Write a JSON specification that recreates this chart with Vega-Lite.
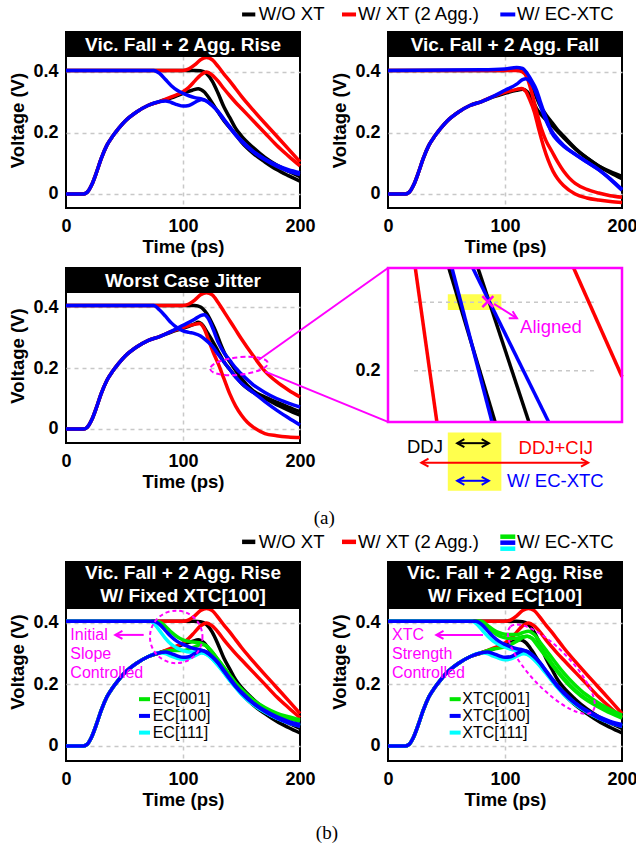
{
"$schema":"https://vega.github.io/schema/vega-lite/v6.json",
"padding":{"left":7,"top":4,"right":0,"bottom":0},
"background":"white",
"columns":2,
"bounds":"flush",
"spacing":{"row":60,"column":88},
"resolve":{"scale":{"x":"independent","y":"independent"}},
"datasets":{
"A1":[
{"s":"k1","c":"k","t":0,"v":0.405},{"s":"k1","c":"k","t":100,"v":0.405},{"s":"k1","c":"k","t":110,"v":0.405},{"s":"k1","c":"k","t":115,"v":0.404},{"s":"k1","c":"k","t":120,"v":0.395},{"s":"k1","c":"k","t":125,"v":0.37},{"s":"k1","c":"k","t":130,"v":0.33},{"s":"k1","c":"k","t":135,"v":0.285},{"s":"k1","c":"k","t":140,"v":0.25},{"s":"k1","c":"k","t":145,"v":0.215},{"s":"k1","c":"k","t":150,"v":0.19},{"s":"k1","c":"k","t":160,"v":0.152},{"s":"k1","c":"k","t":170,"v":0.12},{"s":"k1","c":"k","t":180,"v":0.095},{"s":"k1","c":"k","t":190,"v":0.075},{"s":"k1","c":"k","t":200,"v":0.057},
{"s":"k2","c":"k","t":0,"v":0},{"s":"k2","c":"k","t":15,"v":0},{"s":"k2","c":"k","t":18,"v":0.005},{"s":"k2","c":"k","t":22,"v":0.03},{"s":"k2","c":"k","t":26,"v":0.07},{"s":"k2","c":"k","t":30,"v":0.115},{"s":"k2","c":"k","t":35,"v":0.16},{"s":"k2","c":"k","t":40,"v":0.19},{"s":"k2","c":"k","t":45,"v":0.215},{"s":"k2","c":"k","t":50,"v":0.237},{"s":"k2","c":"k","t":60,"v":0.268},{"s":"k2","c":"k","t":70,"v":0.29},{"s":"k2","c":"k","t":80,"v":0.303},{"s":"k2","c":"k","t":90,"v":0.315},{"s":"k2","c":"k","t":100,"v":0.33},{"s":"k2","c":"k","t":108,"v":0.34},{"s":"k2","c":"k","t":113,"v":0.345},{"s":"k2","c":"k","t":118,"v":0.335},{"s":"k2","c":"k","t":123,"v":0.31},{"s":"k2","c":"k","t":128,"v":0.28},{"s":"k2","c":"k","t":135,"v":0.24},{"s":"k2","c":"k","t":145,"v":0.195},{"s":"k2","c":"k","t":150,"v":0.17},{"s":"k2","c":"k","t":160,"v":0.133},{"s":"k2","c":"k","t":170,"v":0.105},{"s":"k2","c":"k","t":180,"v":0.08},{"s":"k2","c":"k","t":190,"v":0.06},{"s":"k2","c":"k","t":200,"v":0.042},
{"s":"r1","c":"r","t":0,"v":0.405},{"s":"r1","c":"r","t":100,"v":0.405},{"s":"r1","c":"r","t":105,"v":0.41},{"s":"r1","c":"r","t":110,"v":0.423},{"s":"r1","c":"r","t":115,"v":0.44},{"s":"r1","c":"r","t":120,"v":0.447},{"s":"r1","c":"r","t":125,"v":0.44},{"s":"r1","c":"r","t":130,"v":0.418},{"s":"r1","c":"r","t":135,"v":0.393},{"s":"r1","c":"r","t":140,"v":0.37},{"s":"r1","c":"r","t":145,"v":0.345},{"s":"r1","c":"r","t":150,"v":0.32},{"s":"r1","c":"r","t":160,"v":0.275},{"s":"r1","c":"r","t":170,"v":0.232},{"s":"r1","c":"r","t":180,"v":0.19},{"s":"r1","c":"r","t":190,"v":0.148},{"s":"r1","c":"r","t":200,"v":0.105},
{"s":"r2","c":"r","t":0,"v":0},{"s":"r2","c":"r","t":15,"v":0},{"s":"r2","c":"r","t":18,"v":0.005},{"s":"r2","c":"r","t":22,"v":0.03},{"s":"r2","c":"r","t":26,"v":0.07},{"s":"r2","c":"r","t":30,"v":0.115},{"s":"r2","c":"r","t":35,"v":0.16},{"s":"r2","c":"r","t":40,"v":0.19},{"s":"r2","c":"r","t":45,"v":0.215},{"s":"r2","c":"r","t":50,"v":0.237},{"s":"r2","c":"r","t":60,"v":0.268},{"s":"r2","c":"r","t":70,"v":0.29},{"s":"r2","c":"r","t":80,"v":0.303},{"s":"r2","c":"r","t":90,"v":0.318},{"s":"r2","c":"r","t":100,"v":0.335},{"s":"r2","c":"r","t":105,"v":0.35},{"s":"r2","c":"r","t":110,"v":0.37},{"s":"r2","c":"r","t":115,"v":0.39},{"s":"r2","c":"r","t":120,"v":0.4},{"s":"r2","c":"r","t":125,"v":0.39},{"s":"r2","c":"r","t":130,"v":0.37},{"s":"r2","c":"r","t":135,"v":0.345},{"s":"r2","c":"r","t":140,"v":0.322},{"s":"r2","c":"r","t":145,"v":0.3},{"s":"r2","c":"r","t":150,"v":0.28},{"s":"r2","c":"r","t":160,"v":0.24},{"s":"r2","c":"r","t":170,"v":0.2},{"s":"r2","c":"r","t":180,"v":0.16},{"s":"r2","c":"r","t":190,"v":0.125},{"s":"r2","c":"r","t":200,"v":0.092},
{"s":"b1","c":"b","t":0,"v":0.405},{"s":"b1","c":"b","t":75,"v":0.405},{"s":"b1","c":"b","t":80,"v":0.395},{"s":"b1","c":"b","t":85,"v":0.375},{"s":"b1","c":"b","t":90,"v":0.355},{"s":"b1","c":"b","t":95,"v":0.34},{"s":"b1","c":"b","t":100,"v":0.33},{"s":"b1","c":"b","t":105,"v":0.322},{"s":"b1","c":"b","t":110,"v":0.316},{"s":"b1","c":"b","t":115,"v":0.312},{"s":"b1","c":"b","t":120,"v":0.305},{"s":"b1","c":"b","t":125,"v":0.29},{"s":"b1","c":"b","t":130,"v":0.27},{"s":"b1","c":"b","t":135,"v":0.245},{"s":"b1","c":"b","t":140,"v":0.22},{"s":"b1","c":"b","t":145,"v":0.195},{"s":"b1","c":"b","t":150,"v":0.175},{"s":"b1","c":"b","t":160,"v":0.14},{"s":"b1","c":"b","t":170,"v":0.115},{"s":"b1","c":"b","t":180,"v":0.095},{"s":"b1","c":"b","t":190,"v":0.08},{"s":"b1","c":"b","t":200,"v":0.07},
{"s":"b2","c":"b","t":0,"v":0},{"s":"b2","c":"b","t":15,"v":0},{"s":"b2","c":"b","t":18,"v":0.005},{"s":"b2","c":"b","t":22,"v":0.03},{"s":"b2","c":"b","t":26,"v":0.07},{"s":"b2","c":"b","t":30,"v":0.115},{"s":"b2","c":"b","t":35,"v":0.16},{"s":"b2","c":"b","t":40,"v":0.19},{"s":"b2","c":"b","t":45,"v":0.215},{"s":"b2","c":"b","t":50,"v":0.237},{"s":"b2","c":"b","t":60,"v":0.268},{"s":"b2","c":"b","t":70,"v":0.29},{"s":"b2","c":"b","t":80,"v":0.303},{"s":"b2","c":"b","t":85,"v":0.305},{"s":"b2","c":"b","t":90,"v":0.3},{"s":"b2","c":"b","t":95,"v":0.293},{"s":"b2","c":"b","t":100,"v":0.288},{"s":"b2","c":"b","t":105,"v":0.29},{"s":"b2","c":"b","t":110,"v":0.3},{"s":"b2","c":"b","t":116,"v":0.31},{"s":"b2","c":"b","t":120,"v":0.305},{"s":"b2","c":"b","t":125,"v":0.29},{"s":"b2","c":"b","t":130,"v":0.27},{"s":"b2","c":"b","t":135,"v":0.243},{"s":"b2","c":"b","t":140,"v":0.217},{"s":"b2","c":"b","t":145,"v":0.193},{"s":"b2","c":"b","t":150,"v":0.172},{"s":"b2","c":"b","t":160,"v":0.138},{"s":"b2","c":"b","t":170,"v":0.112},{"s":"b2","c":"b","t":180,"v":0.091},{"s":"b2","c":"b","t":190,"v":0.075},{"s":"b2","c":"b","t":200,"v":0.064}
],
"A2":[
{"s":"k1","c":"k","t":0,"v":0.405},{"s":"k1","c":"k","t":100,"v":0.405},{"s":"k1","c":"k","t":108,"v":0.41},{"s":"k1","c":"k","t":113,"v":0.41},{"s":"k1","c":"k","t":117,"v":0.4},{"s":"k1","c":"k","t":120,"v":0.38},{"s":"k1","c":"k","t":125,"v":0.335},{"s":"k1","c":"k","t":130,"v":0.29},{"s":"k1","c":"k","t":135,"v":0.26},{"s":"k1","c":"k","t":140,"v":0.235},{"s":"k1","c":"k","t":145,"v":0.21},{"s":"k1","c":"k","t":150,"v":0.19},{"s":"k1","c":"k","t":160,"v":0.15},{"s":"k1","c":"k","t":170,"v":0.118},{"s":"k1","c":"k","t":180,"v":0.092},{"s":"k1","c":"k","t":190,"v":0.073},{"s":"k1","c":"k","t":200,"v":0.058},
{"s":"k2","c":"k","t":0,"v":0},{"s":"k2","c":"k","t":15,"v":0},{"s":"k2","c":"k","t":18,"v":0.005},{"s":"k2","c":"k","t":22,"v":0.03},{"s":"k2","c":"k","t":26,"v":0.07},{"s":"k2","c":"k","t":30,"v":0.115},{"s":"k2","c":"k","t":35,"v":0.16},{"s":"k2","c":"k","t":40,"v":0.19},{"s":"k2","c":"k","t":45,"v":0.215},{"s":"k2","c":"k","t":50,"v":0.237},{"s":"k2","c":"k","t":60,"v":0.268},{"s":"k2","c":"k","t":70,"v":0.29},{"s":"k2","c":"k","t":80,"v":0.303},{"s":"k2","c":"k","t":90,"v":0.318},{"s":"k2","c":"k","t":100,"v":0.33},{"s":"k2","c":"k","t":110,"v":0.34},{"s":"k2","c":"k","t":115,"v":0.343},{"s":"k2","c":"k","t":119,"v":0.335},{"s":"k2","c":"k","t":123,"v":0.31},{"s":"k2","c":"k","t":127,"v":0.28},{"s":"k2","c":"k","t":132,"v":0.255},{"s":"k2","c":"k","t":140,"v":0.225},{"s":"k2","c":"k","t":150,"v":0.185},{"s":"k2","c":"k","t":160,"v":0.148},{"s":"k2","c":"k","t":170,"v":0.118},{"s":"k2","c":"k","t":180,"v":0.092},{"s":"k2","c":"k","t":190,"v":0.07},{"s":"k2","c":"k","t":200,"v":0.05},
{"s":"r1","c":"r","t":0,"v":0.405},{"s":"r1","c":"r","t":110,"v":0.405},{"s":"r1","c":"r","t":115,"v":0.4},{"s":"r1","c":"r","t":119,"v":0.38},{"s":"r1","c":"r","t":123,"v":0.33},{"s":"r1","c":"r","t":127,"v":0.27},{"s":"r1","c":"r","t":131,"v":0.215},{"s":"r1","c":"r","t":135,"v":0.175},{"s":"r1","c":"r","t":140,"v":0.14},{"s":"r1","c":"r","t":145,"v":0.105},{"s":"r1","c":"r","t":150,"v":0.075},{"s":"r1","c":"r","t":155,"v":0.052},{"s":"r1","c":"r","t":160,"v":0.035},{"s":"r1","c":"r","t":170,"v":0.015},{"s":"r1","c":"r","t":180,"v":0.003},{"s":"r1","c":"r","t":190,"v":-0.006},{"s":"r1","c":"r","t":200,"v":-0.011},
{"s":"r2","c":"r","t":0,"v":0},{"s":"r2","c":"r","t":15,"v":0},{"s":"r2","c":"r","t":18,"v":0.005},{"s":"r2","c":"r","t":22,"v":0.03},{"s":"r2","c":"r","t":26,"v":0.07},{"s":"r2","c":"r","t":30,"v":0.115},{"s":"r2","c":"r","t":35,"v":0.16},{"s":"r2","c":"r","t":40,"v":0.19},{"s":"r2","c":"r","t":45,"v":0.215},{"s":"r2","c":"r","t":50,"v":0.237},{"s":"r2","c":"r","t":60,"v":0.268},{"s":"r2","c":"r","t":70,"v":0.29},{"s":"r2","c":"r","t":80,"v":0.303},{"s":"r2","c":"r","t":90,"v":0.32},{"s":"r2","c":"r","t":100,"v":0.333},{"s":"r2","c":"r","t":110,"v":0.343},{"s":"r2","c":"r","t":114,"v":0.346},{"s":"r2","c":"r","t":118,"v":0.335},{"s":"r2","c":"r","t":121,"v":0.31},{"s":"r2","c":"r","t":125,"v":0.27},{"s":"r2","c":"r","t":129,"v":0.21},{"s":"r2","c":"r","t":133,"v":0.155},{"s":"r2","c":"r","t":137,"v":0.11},{"s":"r2","c":"r","t":141,"v":0.075},{"s":"r2","c":"r","t":145,"v":0.05},{"s":"r2","c":"r","t":150,"v":0.028},{"s":"r2","c":"r","t":160,"v":0},{"s":"r2","c":"r","t":170,"v":-0.013},{"s":"r2","c":"r","t":180,"v":-0.02},{"s":"r2","c":"r","t":190,"v":-0.025},{"s":"r2","c":"r","t":200,"v":-0.028},
{"s":"b1","c":"b","t":0,"v":0.405},{"s":"b1","c":"b","t":80,"v":0.407},{"s":"b1","c":"b","t":100,"v":0.41},{"s":"b1","c":"b","t":110,"v":0.415},{"s":"b1","c":"b","t":115,"v":0.412},{"s":"b1","c":"b","t":119,"v":0.395},{"s":"b1","c":"b","t":123,"v":0.37},{"s":"b1","c":"b","t":127,"v":0.34},{"s":"b1","c":"b","t":130,"v":0.305},{"s":"b1","c":"b","t":135,"v":0.25},{"s":"b1","c":"b","t":140,"v":0.2},{"s":"b1","c":"b","t":145,"v":0.175},{"s":"b1","c":"b","t":150,"v":0.157},{"s":"b1","c":"b","t":160,"v":0.13},{"s":"b1","c":"b","t":170,"v":0.105},{"s":"b1","c":"b","t":180,"v":0.08},{"s":"b1","c":"b","t":190,"v":0.048},{"s":"b1","c":"b","t":200,"v":0.012},
{"s":"b2","c":"b","t":0,"v":0},{"s":"b2","c":"b","t":15,"v":0},{"s":"b2","c":"b","t":18,"v":0.005},{"s":"b2","c":"b","t":22,"v":0.03},{"s":"b2","c":"b","t":26,"v":0.07},{"s":"b2","c":"b","t":30,"v":0.115},{"s":"b2","c":"b","t":35,"v":0.16},{"s":"b2","c":"b","t":40,"v":0.19},{"s":"b2","c":"b","t":45,"v":0.215},{"s":"b2","c":"b","t":50,"v":0.237},{"s":"b2","c":"b","t":60,"v":0.268},{"s":"b2","c":"b","t":70,"v":0.29},{"s":"b2","c":"b","t":80,"v":0.303},{"s":"b2","c":"b","t":90,"v":0.32},{"s":"b2","c":"b","t":100,"v":0.34},{"s":"b2","c":"b","t":110,"v":0.36},{"s":"b2","c":"b","t":115,"v":0.375},{"s":"b2","c":"b","t":118,"v":0.378},{"s":"b2","c":"b","t":121,"v":0.37},{"s":"b2","c":"b","t":125,"v":0.345},{"s":"b2","c":"b","t":129,"v":0.305},{"s":"b2","c":"b","t":133,"v":0.26},{"s":"b2","c":"b","t":137,"v":0.225},{"s":"b2","c":"b","t":142,"v":0.195},{"s":"b2","c":"b","t":150,"v":0.16},{"s":"b2","c":"b","t":160,"v":0.13},{"s":"b2","c":"b","t":170,"v":0.105},{"s":"b2","c":"b","t":180,"v":0.08},{"s":"b2","c":"b","t":190,"v":0.05},{"s":"b2","c":"b","t":200,"v":0.015}
],
"A3":[
{"s":"k1","c":"k","t":0,"v":0.405},{"s":"k1","c":"k","t":110,"v":0.405},{"s":"k1","c":"k","t":115,"v":0.4},{"s":"k1","c":"k","t":120,"v":0.38},{"s":"k1","c":"k","t":125,"v":0.345},{"s":"k1","c":"k","t":128,"v":0.32},{"s":"k1","c":"k","t":132,"v":0.28},{"s":"k1","c":"k","t":136,"v":0.245},{"s":"k1","c":"k","t":140,"v":0.22},{"s":"k1","c":"k","t":145,"v":0.192},{"s":"k1","c":"k","t":150,"v":0.165},{"s":"k1","c":"k","t":160,"v":0.125},{"s":"k1","c":"k","t":170,"v":0.105},{"s":"k1","c":"k","t":180,"v":0.088},{"s":"k1","c":"k","t":190,"v":0.072},{"s":"k1","c":"k","t":200,"v":0.057},
{"s":"k2","c":"k","t":0,"v":0},{"s":"k2","c":"k","t":15,"v":0},{"s":"k2","c":"k","t":18,"v":0.005},{"s":"k2","c":"k","t":22,"v":0.03},{"s":"k2","c":"k","t":26,"v":0.07},{"s":"k2","c":"k","t":30,"v":0.115},{"s":"k2","c":"k","t":35,"v":0.16},{"s":"k2","c":"k","t":40,"v":0.19},{"s":"k2","c":"k","t":45,"v":0.215},{"s":"k2","c":"k","t":50,"v":0.237},{"s":"k2","c":"k","t":60,"v":0.268},{"s":"k2","c":"k","t":70,"v":0.29},{"s":"k2","c":"k","t":80,"v":0.303},{"s":"k2","c":"k","t":90,"v":0.318},{"s":"k2","c":"k","t":100,"v":0.33},{"s":"k2","c":"k","t":110,"v":0.345},{"s":"k2","c":"k","t":113,"v":0.35},{"s":"k2","c":"k","t":117,"v":0.34},{"s":"k2","c":"k","t":121,"v":0.315},{"s":"k2","c":"k","t":125,"v":0.29},{"s":"k2","c":"k","t":130,"v":0.255},{"s":"k2","c":"k","t":135,"v":0.22},{"s":"k2","c":"k","t":140,"v":0.195},{"s":"k2","c":"k","t":145,"v":0.172},{"s":"k2","c":"k","t":150,"v":0.15},{"s":"k2","c":"k","t":160,"v":0.12},{"s":"k2","c":"k","t":170,"v":0.1},{"s":"k2","c":"k","t":180,"v":0.08},{"s":"k2","c":"k","t":190,"v":0.062},{"s":"k2","c":"k","t":200,"v":0.045},
{"s":"r1","c":"r","t":0,"v":0.405},{"s":"r1","c":"r","t":100,"v":0.405},{"s":"r1","c":"r","t":105,"v":0.41},{"s":"r1","c":"r","t":110,"v":0.423},{"s":"r1","c":"r","t":115,"v":0.44},{"s":"r1","c":"r","t":120,"v":0.447},{"s":"r1","c":"r","t":125,"v":0.44},{"s":"r1","c":"r","t":130,"v":0.415},{"s":"r1","c":"r","t":135,"v":0.385},{"s":"r1","c":"r","t":140,"v":0.355},{"s":"r1","c":"r","t":145,"v":0.325},{"s":"r1","c":"r","t":150,"v":0.295},{"s":"r1","c":"r","t":160,"v":0.24},{"s":"r1","c":"r","t":170,"v":0.19},{"s":"r1","c":"r","t":180,"v":0.155},{"s":"r1","c":"r","t":190,"v":0.128},{"s":"r1","c":"r","t":200,"v":0.105},
{"s":"r2","c":"r","t":0,"v":0},{"s":"r2","c":"r","t":15,"v":0},{"s":"r2","c":"r","t":18,"v":0.005},{"s":"r2","c":"r","t":22,"v":0.03},{"s":"r2","c":"r","t":26,"v":0.07},{"s":"r2","c":"r","t":30,"v":0.115},{"s":"r2","c":"r","t":35,"v":0.16},{"s":"r2","c":"r","t":40,"v":0.19},{"s":"r2","c":"r","t":45,"v":0.215},{"s":"r2","c":"r","t":50,"v":0.237},{"s":"r2","c":"r","t":60,"v":0.268},{"s":"r2","c":"r","t":70,"v":0.29},{"s":"r2","c":"r","t":80,"v":0.303},{"s":"r2","c":"r","t":90,"v":0.32},{"s":"r2","c":"r","t":100,"v":0.333},{"s":"r2","c":"r","t":110,"v":0.343},{"s":"r2","c":"r","t":114,"v":0.346},{"s":"r2","c":"r","t":118,"v":0.33},{"s":"r2","c":"r","t":122,"v":0.29},{"s":"r2","c":"r","t":126,"v":0.25},{"s":"r2","c":"r","t":130,"v":0.215},{"s":"r2","c":"r","t":135,"v":0.165},{"s":"r2","c":"r","t":140,"v":0.115},{"s":"r2","c":"r","t":145,"v":0.075},{"s":"r2","c":"r","t":150,"v":0.045},{"s":"r2","c":"r","t":155,"v":0.022},{"s":"r2","c":"r","t":160,"v":0.006},{"s":"r2","c":"r","t":170,"v":-0.015},{"s":"r2","c":"r","t":180,"v":-0.022},{"s":"r2","c":"r","t":190,"v":-0.026},{"s":"r2","c":"r","t":200,"v":-0.028},
{"s":"b1","c":"b","t":0,"v":0.405},{"s":"b1","c":"b","t":75,"v":0.405},{"s":"b1","c":"b","t":80,"v":0.39},{"s":"b1","c":"b","t":85,"v":0.37},{"s":"b1","c":"b","t":90,"v":0.348},{"s":"b1","c":"b","t":95,"v":0.332},{"s":"b1","c":"b","t":100,"v":0.322},{"s":"b1","c":"b","t":105,"v":0.317},{"s":"b1","c":"b","t":110,"v":0.313},{"s":"b1","c":"b","t":115,"v":0.305},{"s":"b1","c":"b","t":120,"v":0.29},{"s":"b1","c":"b","t":125,"v":0.272},{"s":"b1","c":"b","t":130,"v":0.245},{"s":"b1","c":"b","t":135,"v":0.22},{"s":"b1","c":"b","t":140,"v":0.195},{"s":"b1","c":"b","t":145,"v":0.17},{"s":"b1","c":"b","t":150,"v":0.15},{"s":"b1","c":"b","t":160,"v":0.12},{"s":"b1","c":"b","t":170,"v":0.09},{"s":"b1","c":"b","t":180,"v":0.062},{"s":"b1","c":"b","t":190,"v":0.037},{"s":"b1","c":"b","t":200,"v":0.013},
{"s":"b2","c":"b","t":0,"v":0},{"s":"b2","c":"b","t":15,"v":0},{"s":"b2","c":"b","t":18,"v":0.005},{"s":"b2","c":"b","t":22,"v":0.03},{"s":"b2","c":"b","t":26,"v":0.07},{"s":"b2","c":"b","t":30,"v":0.115},{"s":"b2","c":"b","t":35,"v":0.16},{"s":"b2","c":"b","t":40,"v":0.19},{"s":"b2","c":"b","t":45,"v":0.215},{"s":"b2","c":"b","t":50,"v":0.237},{"s":"b2","c":"b","t":60,"v":0.268},{"s":"b2","c":"b","t":70,"v":0.29},{"s":"b2","c":"b","t":80,"v":0.303},{"s":"b2","c":"b","t":90,"v":0.32},{"s":"b2","c":"b","t":100,"v":0.34},{"s":"b2","c":"b","t":110,"v":0.36},{"s":"b2","c":"b","t":115,"v":0.372},{"s":"b2","c":"b","t":118,"v":0.375},{"s":"b2","c":"b","t":122,"v":0.36},{"s":"b2","c":"b","t":126,"v":0.325},{"s":"b2","c":"b","t":130,"v":0.285},{"s":"b2","c":"b","t":135,"v":0.25},{"s":"b2","c":"b","t":140,"v":0.225},{"s":"b2","c":"b","t":145,"v":0.2},{"s":"b2","c":"b","t":150,"v":0.18},{"s":"b2","c":"b","t":160,"v":0.145},{"s":"b2","c":"b","t":170,"v":0.12},{"s":"b2","c":"b","t":180,"v":0.1},{"s":"b2","c":"b","t":190,"v":0.085},{"s":"b2","c":"b","t":200,"v":0.072}
],
"EC":[
{"s":"g1","c":"g","t":0,"v":0.405},{"s":"g1","c":"g","t":78,"v":0.405},{"s":"g1","c":"g","t":82,"v":0.398},{"s":"g1","c":"g","t":86,"v":0.385},{"s":"g1","c":"g","t":90,"v":0.37},{"s":"g1","c":"g","t":95,"v":0.355},{"s":"g1","c":"g","t":100,"v":0.345},{"s":"g1","c":"g","t":105,"v":0.34},{"s":"g1","c":"g","t":110,"v":0.337},{"s":"g1","c":"g","t":115,"v":0.335},{"s":"g1","c":"g","t":120,"v":0.325},{"s":"g1","c":"g","t":125,"v":0.305},{"s":"g1","c":"g","t":130,"v":0.28},{"s":"g1","c":"g","t":135,"v":0.255},{"s":"g1","c":"g","t":140,"v":0.23},{"s":"g1","c":"g","t":145,"v":0.205},{"s":"g1","c":"g","t":150,"v":0.185},{"s":"g1","c":"g","t":160,"v":0.15},{"s":"g1","c":"g","t":170,"v":0.125},{"s":"g1","c":"g","t":180,"v":0.107},{"s":"g1","c":"g","t":190,"v":0.095},{"s":"g1","c":"g","t":200,"v":0.085},
{"s":"g2","c":"g","t":0,"v":0},{"s":"g2","c":"g","t":15,"v":0},{"s":"g2","c":"g","t":18,"v":0.005},{"s":"g2","c":"g","t":22,"v":0.03},{"s":"g2","c":"g","t":26,"v":0.07},{"s":"g2","c":"g","t":30,"v":0.115},{"s":"g2","c":"g","t":35,"v":0.16},{"s":"g2","c":"g","t":40,"v":0.19},{"s":"g2","c":"g","t":45,"v":0.215},{"s":"g2","c":"g","t":50,"v":0.237},{"s":"g2","c":"g","t":60,"v":0.268},{"s":"g2","c":"g","t":70,"v":0.29},{"s":"g2","c":"g","t":80,"v":0.303},{"s":"g2","c":"g","t":85,"v":0.308},{"s":"g2","c":"g","t":90,"v":0.31},{"s":"g2","c":"g","t":95,"v":0.31},{"s":"g2","c":"g","t":100,"v":0.31},{"s":"g2","c":"g","t":105,"v":0.315},{"s":"g2","c":"g","t":110,"v":0.322},{"s":"g2","c":"g","t":116,"v":0.33},{"s":"g2","c":"g","t":120,"v":0.325},{"s":"g2","c":"g","t":125,"v":0.305},{"s":"g2","c":"g","t":130,"v":0.28},{"s":"g2","c":"g","t":135,"v":0.255},{"s":"g2","c":"g","t":140,"v":0.228},{"s":"g2","c":"g","t":145,"v":0.203},{"s":"g2","c":"g","t":150,"v":0.182},{"s":"g2","c":"g","t":160,"v":0.148},{"s":"g2","c":"g","t":170,"v":0.122},{"s":"g2","c":"g","t":180,"v":0.103},{"s":"g2","c":"g","t":190,"v":0.09},{"s":"g2","c":"g","t":200,"v":0.08},
{"s":"c1","c":"c","t":0,"v":0.405},{"s":"c1","c":"c","t":72,"v":0.405},{"s":"c1","c":"c","t":76,"v":0.395},{"s":"c1","c":"c","t":80,"v":0.375},{"s":"c1","c":"c","t":85,"v":0.35},{"s":"c1","c":"c","t":90,"v":0.33},{"s":"c1","c":"c","t":95,"v":0.318},{"s":"c1","c":"c","t":100,"v":0.31},{"s":"c1","c":"c","t":105,"v":0.305},{"s":"c1","c":"c","t":110,"v":0.305},{"s":"c1","c":"c","t":115,"v":0.305},{"s":"c1","c":"c","t":120,"v":0.298},{"s":"c1","c":"c","t":125,"v":0.283},{"s":"c1","c":"c","t":130,"v":0.262},{"s":"c1","c":"c","t":135,"v":0.238},{"s":"c1","c":"c","t":140,"v":0.213},{"s":"c1","c":"c","t":145,"v":0.19},{"s":"c1","c":"c","t":150,"v":0.168},{"s":"c1","c":"c","t":160,"v":0.135},{"s":"c1","c":"c","t":170,"v":0.11},{"s":"c1","c":"c","t":180,"v":0.09},{"s":"c1","c":"c","t":190,"v":0.077},{"s":"c1","c":"c","t":200,"v":0.067},
{"s":"c2","c":"c","t":0,"v":0},{"s":"c2","c":"c","t":15,"v":0},{"s":"c2","c":"c","t":18,"v":0.005},{"s":"c2","c":"c","t":22,"v":0.03},{"s":"c2","c":"c","t":26,"v":0.07},{"s":"c2","c":"c","t":30,"v":0.115},{"s":"c2","c":"c","t":35,"v":0.16},{"s":"c2","c":"c","t":40,"v":0.19},{"s":"c2","c":"c","t":45,"v":0.215},{"s":"c2","c":"c","t":50,"v":0.237},{"s":"c2","c":"c","t":60,"v":0.268},{"s":"c2","c":"c","t":70,"v":0.29},{"s":"c2","c":"c","t":80,"v":0.303},{"s":"c2","c":"c","t":85,"v":0.3},{"s":"c2","c":"c","t":90,"v":0.292},{"s":"c2","c":"c","t":95,"v":0.285},{"s":"c2","c":"c","t":100,"v":0.282},{"s":"c2","c":"c","t":105,"v":0.285},{"s":"c2","c":"c","t":110,"v":0.293},{"s":"c2","c":"c","t":116,"v":0.302},{"s":"c2","c":"c","t":120,"v":0.298},{"s":"c2","c":"c","t":125,"v":0.283},{"s":"c2","c":"c","t":130,"v":0.262},{"s":"c2","c":"c","t":135,"v":0.238},{"s":"c2","c":"c","t":140,"v":0.213},{"s":"c2","c":"c","t":145,"v":0.19},{"s":"c2","c":"c","t":150,"v":0.168},{"s":"c2","c":"c","t":160,"v":0.135},{"s":"c2","c":"c","t":170,"v":0.11},{"s":"c2","c":"c","t":180,"v":0.09},{"s":"c2","c":"c","t":190,"v":0.075},{"s":"c2","c":"c","t":200,"v":0.065}
],
"XT":[
{"s":"g1","c":"g","t":0,"v":0.405},{"s":"g1","c":"g","t":78,"v":0.405},{"s":"g1","c":"g","t":82,"v":0.398},{"s":"g1","c":"g","t":86,"v":0.385},{"s":"g1","c":"g","t":90,"v":0.37},{"s":"g1","c":"g","t":95,"v":0.358},{"s":"g1","c":"g","t":100,"v":0.352},{"s":"g1","c":"g","t":105,"v":0.35},{"s":"g1","c":"g","t":110,"v":0.35},{"s":"g1","c":"g","t":115,"v":0.355},{"s":"g1","c":"g","t":119,"v":0.357},{"s":"g1","c":"g","t":123,"v":0.35},{"s":"g1","c":"g","t":127,"v":0.335},{"s":"g1","c":"g","t":132,"v":0.31},{"s":"g1","c":"g","t":137,"v":0.285},{"s":"g1","c":"g","t":142,"v":0.258},{"s":"g1","c":"g","t":148,"v":0.23},{"s":"g1","c":"g","t":155,"v":0.2},{"s":"g1","c":"g","t":165,"v":0.165},{"s":"g1","c":"g","t":175,"v":0.14},{"s":"g1","c":"g","t":185,"v":0.12},{"s":"g1","c":"g","t":200,"v":0.095},
{"s":"g3","c":"g","t":0,"v":0.405},{"s":"g3","c":"g","t":80,"v":0.405},{"s":"g3","c":"g","t":85,"v":0.392},{"s":"g3","c":"g","t":90,"v":0.378},{"s":"g3","c":"g","t":95,"v":0.368},{"s":"g3","c":"g","t":100,"v":0.363},{"s":"g3","c":"g","t":110,"v":0.362},{"s":"g3","c":"g","t":115,"v":0.368},{"s":"g3","c":"g","t":120,"v":0.373},{"s":"g3","c":"g","t":125,"v":0.362},{"s":"g3","c":"g","t":130,"v":0.337},{"s":"g3","c":"g","t":136,"v":0.307},{"s":"g3","c":"g","t":142,"v":0.277},{"s":"g3","c":"g","t":148,"v":0.247},{"s":"g3","c":"g","t":155,"v":0.217},{"s":"g3","c":"g","t":165,"v":0.18},{"s":"g3","c":"g","t":175,"v":0.152},{"s":"g3","c":"g","t":185,"v":0.128},{"s":"g3","c":"g","t":200,"v":0.1},
{"s":"g2","c":"g","t":0,"v":0},{"s":"g2","c":"g","t":15,"v":0},{"s":"g2","c":"g","t":18,"v":0.005},{"s":"g2","c":"g","t":22,"v":0.03},{"s":"g2","c":"g","t":26,"v":0.07},{"s":"g2","c":"g","t":30,"v":0.115},{"s":"g2","c":"g","t":35,"v":0.16},{"s":"g2","c":"g","t":40,"v":0.19},{"s":"g2","c":"g","t":45,"v":0.215},{"s":"g2","c":"g","t":50,"v":0.237},{"s":"g2","c":"g","t":60,"v":0.268},{"s":"g2","c":"g","t":70,"v":0.29},{"s":"g2","c":"g","t":80,"v":0.303},{"s":"g2","c":"g","t":85,"v":0.31},{"s":"g2","c":"g","t":90,"v":0.315},{"s":"g2","c":"g","t":95,"v":0.318},{"s":"g2","c":"g","t":100,"v":0.322},{"s":"g2","c":"g","t":105,"v":0.33},{"s":"g2","c":"g","t":110,"v":0.34},{"s":"g2","c":"g","t":115,"v":0.352},{"s":"g2","c":"g","t":119,"v":0.357},{"s":"g2","c":"g","t":123,"v":0.35},{"s":"g2","c":"g","t":127,"v":0.33},{"s":"g2","c":"g","t":132,"v":0.305},{"s":"g2","c":"g","t":137,"v":0.28},{"s":"g2","c":"g","t":142,"v":0.254},{"s":"g2","c":"g","t":148,"v":0.226},{"s":"g2","c":"g","t":155,"v":0.196},{"s":"g2","c":"g","t":165,"v":0.162},{"s":"g2","c":"g","t":175,"v":0.137},{"s":"g2","c":"g","t":185,"v":0.116},{"s":"g2","c":"g","t":200,"v":0.09},
{"s":"c1","c":"c","t":0,"v":0.405},{"s":"c1","c":"c","t":72,"v":0.405},{"s":"c1","c":"c","t":77,"v":0.392},{"s":"c1","c":"c","t":82,"v":0.37},{"s":"c1","c":"c","t":87,"v":0.35},{"s":"c1","c":"c","t":92,"v":0.335},{"s":"c1","c":"c","t":97,"v":0.325},{"s":"c1","c":"c","t":102,"v":0.318},{"s":"c1","c":"c","t":108,"v":0.312},{"s":"c1","c":"c","t":113,"v":0.308},{"s":"c1","c":"c","t":118,"v":0.3},{"s":"c1","c":"c","t":123,"v":0.287},{"s":"c1","c":"c","t":128,"v":0.268},{"s":"c1","c":"c","t":133,"v":0.245},{"s":"c1","c":"c","t":138,"v":0.222},{"s":"c1","c":"c","t":143,"v":0.198},{"s":"c1","c":"c","t":150,"v":0.17},{"s":"c1","c":"c","t":160,"v":0.137},{"s":"c1","c":"c","t":170,"v":0.112},{"s":"c1","c":"c","t":180,"v":0.092},{"s":"c1","c":"c","t":190,"v":0.077},{"s":"c1","c":"c","t":200,"v":0.066},
{"s":"c2","c":"c","t":0,"v":0},{"s":"c2","c":"c","t":15,"v":0},{"s":"c2","c":"c","t":18,"v":0.005},{"s":"c2","c":"c","t":22,"v":0.03},{"s":"c2","c":"c","t":26,"v":0.07},{"s":"c2","c":"c","t":30,"v":0.115},{"s":"c2","c":"c","t":35,"v":0.16},{"s":"c2","c":"c","t":40,"v":0.19},{"s":"c2","c":"c","t":45,"v":0.215},{"s":"c2","c":"c","t":50,"v":0.237},{"s":"c2","c":"c","t":60,"v":0.268},{"s":"c2","c":"c","t":70,"v":0.29},{"s":"c2","c":"c","t":80,"v":0.303},{"s":"c2","c":"c","t":85,"v":0.3},{"s":"c2","c":"c","t":90,"v":0.292},{"s":"c2","c":"c","t":95,"v":0.285},{"s":"c2","c":"c","t":100,"v":0.28},{"s":"c2","c":"c","t":105,"v":0.283},{"s":"c2","c":"c","t":110,"v":0.292},{"s":"c2","c":"c","t":116,"v":0.3},{"s":"c2","c":"c","t":120,"v":0.297},{"s":"c2","c":"c","t":125,"v":0.282},{"s":"c2","c":"c","t":130,"v":0.262},{"s":"c2","c":"c","t":135,"v":0.238},{"s":"c2","c":"c","t":140,"v":0.213},{"s":"c2","c":"c","t":145,"v":0.19},{"s":"c2","c":"c","t":150,"v":0.168},{"s":"c2","c":"c","t":160,"v":0.135},{"s":"c2","c":"c","t":170,"v":0.11},{"s":"c2","c":"c","t":180,"v":0.09},{"s":"c2","c":"c","t":190,"v":0.075},{"s":"c2","c":"c","t":200,"v":0.064}
],
"Z":[
{"s":"r1","c":"r","t":130.25,"v":0.23},{"s":"r1","c":"r","t":134.4,"v":0.185},
{"s":"r2","c":"r","t":160.7,"v":0.23},{"s":"r2","c":"r","t":170,"v":0.1982},
{"s":"k1","c":"k","t":136.7,"v":0.23},{"s":"k1","c":"k","t":145.6,"v":0.185},
{"s":"k2","c":"k","t":142.3,"v":0.23},{"s":"k2","c":"k","t":152.1,"v":0.185},
{"s":"b1","c":"b","t":137.3,"v":0.23},{"s":"b1","c":"b","t":145.0,"v":0.185},
{"s":"b2","c":"b","t":141.3,"v":0.23},{"s":"b2","c":"b","t":155.9,"v":0.185}
]
},
"concat":[
{
"width":234,"height":176,
"encoding":{
"x":{"field":"t","type":"quantitative","scale":{"domain":[0,200],"nice":false,"zero":false},"axis":{"values":[0,100,200],"title":"Time (ps)","gridOpacity":{"condition":{"test":"datum.value > 0 && datum.value < 200","value":1},"value":0}}},
"y":{"field":"v","type":"quantitative","scale":{"domain":[-0.046,0.531],"nice":false,"zero":false},"axis":{"values":[0,0.2,0.4],"format":"~g","title":"Voltage (V)"}}
},
"layer":[
{"data":{"name":"A1"},"mark":{"type":"line","strokeWidth":3.5,"interpolate":"monotone"},"encoding":{"color":{"field":"c","type":"nominal","scale":{"domain":["k","r","b","g","c","m"],"range":["#000000","#ff0000","#0000ff","#00e600","#00ffff","#ff00ff"]},"legend":null},"detail":{"field":"s"}}},
{"data":{"values":[{"t":0,"t2":200,"v":0.449,"v2":0.531}]},"mark":{"type":"rect","fill":"#000000"},"encoding":{"x2":{"field":"t2"},"y2":{"field":"v2"}}},
{"data":{"values":[{"t":100,"v":0.49,"txt":"Vic. Fall + 2 Agg. Rise"}]},"mark":{"type":"text","fill":"#ffffff","fontWeight":"bold","fontSize":19},"encoding":{"text":{"field":"txt"}}},
{"data":{"values":[{"c":"k","t":150.5,"t2":161.8,"v":0.5885},{"c":"r","t":235.9,"t2":247.9,"v":0.5885},{"c":"b","t":371.2,"t2":384,"v":0.5885}]},"mark":{"type":"rule","strokeWidth":4,"clip":false},"encoding":{"x2":{"field":"t2"},"color":{"field":"c","type":"nominal","scale":{"domain":["k","r","b","g","c","m"],"range":["#000000","#ff0000","#0000ff","#00e600","#00ffff","#ff00ff"]},"legend":null}}},
{"data":{"values":[{"t":164.7,"v":0.5885,"txt":"W/O XT"},{"t":249.6,"v":0.5885,"txt":"W/ XT (2 Agg.)"},{"t":385.5,"v":0.5885,"txt":"W/ EC-XTC"}]},"mark":{"type":"text","align":"left","fontSize":18.5,"fill":"#000000","clip":false},"encoding":{"text":{"field":"txt"}}}
]
},
{
"width":234,"height":176,
"encoding":{
"x":{"field":"t","type":"quantitative","scale":{"domain":[0,200],"nice":false,"zero":false},"axis":{"values":[0,100,200],"title":"Time (ps)","gridOpacity":{"condition":{"test":"datum.value > 0 && datum.value < 200","value":1},"value":0}}},
"y":{"field":"v","type":"quantitative","scale":{"domain":[-0.046,0.531],"nice":false,"zero":false},"axis":{"values":[0,0.2,0.4],"format":"~g","title":"Voltage (V)"}}
},
"layer":[
{"data":{"name":"A2"},"mark":{"type":"line","strokeWidth":3.5,"interpolate":"monotone"},"encoding":{"color":{"field":"c","type":"nominal","scale":{"domain":["k","r","b","g","c","m"],"range":["#000000","#ff0000","#0000ff","#00e600","#00ffff","#ff00ff"]},"legend":null},"detail":{"field":"s"}}},
{"data":{"values":[{"t":0,"t2":200,"v":0.449,"v2":0.531}]},"mark":{"type":"rect","fill":"#000000"},"encoding":{"x2":{"field":"t2"},"y2":{"field":"v2"}}},
{"data":{"values":[{"t":100,"v":0.49,"txt":"Vic. Fall + 2 Agg. Fall"}]},"mark":{"type":"text","fill":"#ffffff","fontWeight":"bold","fontSize":19},"encoding":{"text":{"field":"txt"}}}
]
},
{
"width":234,"height":175,
"encoding":{
"x":{"field":"t","type":"quantitative","scale":{"domain":[0,200],"nice":false,"zero":false},"axis":{"values":[0,100,200],"title":"Time (ps)","gridOpacity":{"condition":{"test":"datum.value > 0 && datum.value < 200","value":1},"value":0}}},
"y":{"field":"v","type":"quantitative","scale":{"domain":[-0.046,0.528],"nice":false,"zero":false},"axis":{"values":[0,0.2,0.4],"format":"~g","title":"Voltage (V)"}}
},
"layer":[
{"data":{"name":"A3"},"mark":{"type":"line","strokeWidth":3.5,"interpolate":"monotone"},"encoding":{"color":{"field":"c","type":"nominal","scale":{"domain":["k","r","b","g","c","m"],"range":["#000000","#ff0000","#0000ff","#00e600","#00ffff","#ff00ff"]},"legend":null},"detail":{"field":"s"}}},
{"data":{"values":[{"t":0,"t2":200,"v":0.446,"v2":0.528}]},"mark":{"type":"rect","fill":"#000000"},"encoding":{"x2":{"field":"t2"},"y2":{"field":"v2"}}},
{"data":{"values":[{"t":100,"v":0.487,"txt":"Worst Case Jitter"}]},"mark":{"type":"text","fill":"#ffffff","fontWeight":"bold","fontSize":19},"encoding":{"text":{"field":"txt"}}},
{"data":{"values":[{"t":147.9,"v":0.2066}]},"mark":{"type":"point","shape":"M -1 0 A 1 0.3 0 1 0 1 0 A 1 0.3 0 1 0 -1 0 Z","size":3364,"filled":false,"stroke":"#ff00ff","strokeWidth":2,"strokeDash":[5,3],"angle":-6,"opacity":1}}
]
},
{
"width":234,"height":234,"view":{"stroke":null},
"encoding":{
"x":{"field":"t","type":"quantitative","scale":{"domain":[125,170],"nice":false,"zero":false},"axis":null},
"y":{"field":"v","type":"quantitative","scale":{"domain":[0.1616,0.23],"nice":false,"zero":false},"axis":{"values":[0.2],"format":"~g","title":null,"grid":false}}
},
"layer":[
{"data":{"values":[{"t":136.5,"t2":146.8,"v":0.2177,"v2":0.2223},{"t":136.5,"t2":146.8,"v":0.1649,"v2":0.1819}]},"mark":{"type":"rect","fill":"#ffff4d","clip":false},"encoding":{"x2":{"field":"t2"},"y2":{"field":"v2"}}},
{"data":{"values":[{"t":130,"t2":164.6,"v":0.2},{"t":130,"t2":164.6,"v":0.22}]},"mark":{"type":"rule","stroke":"#c8c8c8","strokeWidth":1.5,"strokeDash":[4,4]},"encoding":{"x2":{"field":"t2"}}},
{"data":{"name":"Z"},"mark":{"type":"line","strokeWidth":3.5},"encoding":{"color":{"field":"c","type":"nominal","scale":{"domain":["k","r","b","g","c","m"],"range":["#000000","#ff0000","#0000ff","#00e600","#00ffff","#ff00ff"]},"legend":null},"detail":{"field":"s"}}},
{"data":{"values":[{"t":125,"t2":170,"v":0.185,"v2":0.23}]},"mark":{"type":"rect","fillOpacity":0,"stroke":"#ff00ff","strokeWidth":2.5},"encoding":{"x2":{"field":"t2"},"y2":{"field":"v2"}}},
{"data":{"values":[{"t":100.1,"v":0.2031,"t2":125,"v2":0.23},{"t":101.4,"v":0.1997,"t2":125,"v2":0.185}]},"mark":{"type":"rule","stroke":"#ff00ff","strokeWidth":2,"clip":false},"encoding":{"x2":{"field":"t2"},"y2":{"field":"v2"}}},
{"data":{"values":[{"t":144.2,"v":0.2202}]},"mark":{"type":"point","shape":"M -1 -1 L 1 1 M -1 1 L 1 -1","size":121,"filled":false,"stroke":"#ff00ff","strokeWidth":2.5,"opacity":1}},
{"data":{"values":[{"t":145.4,"v":0.2195,"t2":149.8,"v2":0.2153}]},"mark":{"type":"rule","stroke":"#ff00ff","strokeWidth":2},"encoding":{"x2":{"field":"t2"},"y2":{"field":"v2"}}},
{"data":{"values":[{"t":149.13,"v":0.2159}]},"mark":{"type":"point","shape":"M -0.8 -1 L 1 0 L -0.8 1","size":64,"filled":false,"stroke":"#ff00ff","strokeWidth":2,"angle":29,"opacity":1}},
{"data":{"values":[{"c":"k","t":138.3,"t2":144.4,"v":0.1788},{"c":"r","t":131.4,"t2":163.5,"v":0.1731},{"c":"b","t":138.3,"t2":144.4,"v":0.1678}]},"mark":{"type":"rule","strokeWidth":2,"clip":false},"encoding":{"x2":{"field":"t2"},"color":{"field":"c","type":"nominal","scale":{"domain":["k","r","b","g","c","m"],"range":["#000000","#ff0000","#0000ff","#00e600","#00ffff","#ff00ff"]},"legend":null}}},
{"data":{"values":[{"c":"k","d":"L","t":139.07,"v":0.1788},{"c":"k","d":"R","t":143.63,"v":0.1788},{"c":"r","d":"L","t":132.17,"v":0.1731},{"c":"r","d":"R","t":162.73,"v":0.1731},{"c":"b","d":"L","t":139.07,"v":0.1678},{"c":"b","d":"R","t":143.63,"v":0.1678}]},"mark":{"type":"point","size":64,"filled":false,"strokeWidth":2,"opacity":1,"clip":false},"encoding":{"shape":{"field":"d","type":"nominal","scale":{"domain":["L","R"],"range":["M 0.8 -1 L -1 0 L 0.8 1","M -0.8 -1 L 1 0 L -0.8 1"]},"legend":null},"color":{"field":"c","type":"nominal","scale":{"domain":["k","r","b","g","c","m"],"range":["#000000","#ff0000","#0000ff","#00e600","#00ffff","#ff00ff"]},"legend":null}}},
{"data":{"values":[{"c":"m","t":150.4,"v":0.2128,"txt":"Aligned"},{"c":"k","t":128.65,"v":0.1778,"txt":"DDJ"},{"c":"r","t":150.1,"v":0.1773,"txt":"DDJ+CIJ"},{"c":"b","t":147.9,"v":0.1678,"txt":"W/ EC-XTC"}]},"mark":{"type":"text","align":"left","fontSize":18.5,"clip":false},"encoding":{"text":{"field":"txt"},"color":{"field":"c","type":"nominal","scale":{"domain":["k","r","b","g","c","m"],"range":["#000000","#ff0000","#0000ff","#00e600","#00ffff","#ff00ff"]},"legend":null}}},
{"data":{"values":[{"t":112.75,"v":0.1569,"txt":"(a)"}]},"mark":{"type":"text","font":"Liberation Serif","fontSize":19,"fill":"#000000","clip":false},"encoding":{"text":{"field":"txt"}}}
]
},
{
"width":234,"height":199,
"encoding":{
"x":{"field":"t","type":"quantitative","scale":{"domain":[0,200],"nice":false,"zero":false},"axis":{"values":[0,100,200],"title":"Time (ps)","gridOpacity":{"condition":{"test":"datum.value > 0 && datum.value < 200","value":1},"value":0}}},
"y":{"field":"v","type":"quantitative","scale":{"domain":[-0.049,0.598],"nice":false,"zero":false},"axis":{"values":[0,0.2,0.4],"format":"~g","title":"Voltage (V)"}}
},
"layer":[
{"data":{"name":"A1"},"transform":[{"filter":{"field":"c","oneOf":["k","r"]}}],"mark":{"type":"line","strokeWidth":3.5,"interpolate":"monotone"},"encoding":{"color":{"field":"c","type":"nominal","scale":{"domain":["k","r","b","g","c","m"],"range":["#000000","#ff0000","#0000ff","#00e600","#00ffff","#ff00ff"]},"legend":null},"detail":{"field":"s"}}},
{"data":{"name":"EC"},"mark":{"type":"line","strokeWidth":3.5,"interpolate":"monotone"},"encoding":{"color":{"field":"c","type":"nominal","scale":{"domain":["k","r","b","g","c","m"],"range":["#000000","#ff0000","#0000ff","#00e600","#00ffff","#ff00ff"]},"legend":null},"detail":{"field":"s"}}},
{"data":{"name":"A1"},"transform":[{"filter":{"field":"c","equal":"b"}}],"mark":{"type":"line","strokeWidth":3.5,"interpolate":"monotone"},"encoding":{"color":{"field":"c","type":"nominal","scale":{"domain":["k","r","b","g","c","m"],"range":["#000000","#ff0000","#0000ff","#00e600","#00ffff","#ff00ff"]},"legend":null},"detail":{"field":"s"}}},
{"data":{"values":[{"t":0,"t2":200,"v":0.445,"v2":0.598}]},"mark":{"type":"rect","fill":"#000000"},"encoding":{"x2":{"field":"t2"},"y2":{"field":"v2"}}},
{"data":{"values":[{"t":100,"v":0.561,"txt":"Vic. Fall + 2 Agg. Rise"},{"t":100,"v":0.488,"txt":"W/ Fixed XTC[100]"}]},"mark":{"type":"text","fill":"#ffffff","fontWeight":"bold","fontSize":19},"encoding":{"text":{"field":"txt"}}},
{"data":{"values":[{"t":94.2,"v":0.3544}]},"mark":{"type":"point","shape":"circle","size":2756,"filled":false,"stroke":"#ff00ff","strokeWidth":2,"strokeDash":[4,3],"opacity":1}},
{"data":{"values":[{"t":42.1,"t2":66.4,"v":0.361}]},"mark":{"type":"rule","stroke":"#ff00ff","strokeWidth":2},"encoding":{"x2":{"field":"t2"}}},
{"data":{"values":[{"t":45.5,"v":0.361}]},"mark":{"type":"point","shape":"M 0.8 -1 L -1 0 L 0.8 1","size":64,"filled":false,"stroke":"#ff00ff","strokeWidth":2,"opacity":1}},
{"data":{"values":[{"t":3.7,"v":0.361,"txt":"Initial"},{"t":3.7,"v":0.299,"txt":"Slope"},{"t":3.7,"v":0.236,"txt":"Controlled"}]},"mark":{"type":"text","align":"left","fontSize":16,"fill":"#ff00ff"},"encoding":{"text":{"field":"txt"}}},
{"data":{"values":[{"c":"g","t":62.4,"t2":71.8,"v":0.152},{"c":"b","t":62.4,"t2":71.8,"v":0.0976},{"c":"c","t":62.4,"t2":71.8,"v":0.0433}]},"mark":{"type":"rule","strokeWidth":4},"encoding":{"x2":{"field":"t2"},"color":{"field":"c","type":"nominal","scale":{"domain":["k","r","b","g","c","m"],"range":["#000000","#ff0000","#0000ff","#00e600","#00ffff","#ff00ff"]},"legend":null}}},
{"data":{"values":[{"t":74.1,"v":0.152,"txt":"EC[001]"},{"t":74.1,"v":0.0976,"txt":"EC[100]"},{"t":74.1,"v":0.0433,"txt":"EC[111]"}]},"mark":{"type":"text","align":"left","fontSize":16,"fill":"#000000"},"encoding":{"text":{"field":"txt"}}},
{"data":{"values":[{"c":"k","t":150.5,"t2":161.8,"v":0.6635},{"c":"r","t":235.9,"t2":247.9,"v":0.6635},{"c":"g","t":371.2,"t2":384,"v":0.6803},{"c":"b","t":371.2,"t2":384,"v":0.6608},{"c":"c","t":371.2,"t2":384,"v":0.6413}]},"mark":{"type":"rule","strokeWidth":4.5,"clip":false},"encoding":{"x2":{"field":"t2"},"color":{"field":"c","type":"nominal","scale":{"domain":["k","r","b","g","c","m"],"range":["#000000","#ff0000","#0000ff","#00e600","#00ffff","#ff00ff"]},"legend":null}}},
{"data":{"values":[{"t":164.7,"v":0.6635,"txt":"W/O XT"},{"t":249.6,"v":0.6635,"txt":"W/ XT (2 Agg.)"},{"t":385.5,"v":0.6635,"txt":"W/ EC-XTC"}]},"mark":{"type":"text","align":"left","fontSize":18.5,"fill":"#000000","clip":false},"encoding":{"text":{"field":"txt"}}},
{"data":{"values":[{"t":223,"v":-0.283,"txt":"(b)"}]},"mark":{"type":"text","font":"Liberation Serif","fontSize":19,"fill":"#000000","clip":false},"encoding":{"text":{"field":"txt"}}}
]
},
{
"width":234,"height":199,
"encoding":{
"x":{"field":"t","type":"quantitative","scale":{"domain":[0,200],"nice":false,"zero":false},"axis":{"values":[0,100,200],"title":"Time (ps)","gridOpacity":{"condition":{"test":"datum.value > 0 && datum.value < 200","value":1},"value":0}}},
"y":{"field":"v","type":"quantitative","scale":{"domain":[-0.049,0.598],"nice":false,"zero":false},"axis":{"values":[0,0.2,0.4],"format":"~g","title":"Voltage (V)"}}
},
"layer":[
{"data":{"name":"A1"},"transform":[{"filter":{"field":"c","oneOf":["k","r"]}}],"mark":{"type":"line","strokeWidth":3.5,"interpolate":"monotone"},"encoding":{"color":{"field":"c","type":"nominal","scale":{"domain":["k","r","b","g","c","m"],"range":["#000000","#ff0000","#0000ff","#00e600","#00ffff","#ff00ff"]},"legend":null},"detail":{"field":"s"}}},
{"data":{"name":"XT"},"mark":{"type":"line","strokeWidth":3.5,"interpolate":"monotone"},"encoding":{"color":{"field":"c","type":"nominal","scale":{"domain":["k","r","b","g","c","m"],"range":["#000000","#ff0000","#0000ff","#00e600","#00ffff","#ff00ff"]},"legend":null},"detail":{"field":"s"}}},
{"data":{"name":"A1"},"transform":[{"filter":{"field":"c","equal":"b"}}],"mark":{"type":"line","strokeWidth":3.5,"interpolate":"monotone"},"encoding":{"color":{"field":"c","type":"nominal","scale":{"domain":["k","r","b","g","c","m"],"range":["#000000","#ff0000","#0000ff","#00e600","#00ffff","#ff00ff"]},"legend":null},"detail":{"field":"s"}}},
{"data":{"values":[{"t":0,"t2":200,"v":0.445,"v2":0.598}]},"mark":{"type":"rect","fill":"#000000"},"encoding":{"x2":{"field":"t2"},"y2":{"field":"v2"}}},
{"data":{"values":[{"t":100,"v":0.561,"txt":"Vic. Fall + 2 Agg. Rise"},{"t":100,"v":0.488,"txt":"W/ Fixed EC[100]"}]},"mark":{"type":"text","fill":"#ffffff","fontWeight":"bold","fontSize":19},"encoding":{"text":{"field":"txt"}}},
{"data":{"values":[{"t":139.6,"v":0.2497}]},"mark":{"type":"point","shape":"M -1 0 A 1 0.34 0 1 0 1 0 A 1 0.34 0 1 0 -1 0 Z","size":13924,"filled":false,"stroke":"#ff00ff","strokeWidth":2,"strokeDash":[4,3],"angle":46,"opacity":1}},
{"data":{"values":[{"t":41.3,"t2":81.2,"v":0.361}]},"mark":{"type":"rule","stroke":"#ff00ff","strokeWidth":2},"encoding":{"x2":{"field":"t2"}}},
{"data":{"values":[{"t":44.7,"v":0.361}]},"mark":{"type":"point","shape":"M 0.8 -1 L -1 0 L 0.8 1","size":64,"filled":false,"stroke":"#ff00ff","strokeWidth":2,"opacity":1}},
{"data":{"values":[{"t":3.4,"v":0.361,"txt":"XTC"},{"t":3.4,"v":0.299,"txt":"Strength"},{"t":3.4,"v":0.236,"txt":"Controlled"}]},"mark":{"type":"text","align":"left","fontSize":16,"fill":"#ff00ff"},"encoding":{"text":{"field":"txt"}}},
{"data":{"values":[{"c":"g","t":52.7,"t2":62.1,"v":0.152},{"c":"b","t":52.7,"t2":62.1,"v":0.0976},{"c":"c","t":52.7,"t2":62.1,"v":0.0433}]},"mark":{"type":"rule","strokeWidth":4},"encoding":{"x2":{"field":"t2"},"color":{"field":"c","type":"nominal","scale":{"domain":["k","r","b","g","c","m"],"range":["#000000","#ff0000","#0000ff","#00e600","#00ffff","#ff00ff"]},"legend":null}}},
{"data":{"values":[{"t":63.5,"v":0.152,"txt":"XTC[001]"},{"t":63.5,"v":0.0976,"txt":"XTC[100]"},{"t":63.5,"v":0.0433,"txt":"XTC[111]"}]},"mark":{"type":"text","align":"left","fontSize":16,"fill":"#000000"},"encoding":{"text":{"field":"txt"}}}
]
}
],
"config":{
"font":"Liberation Sans",
"view":{"stroke":"#000000","strokeWidth":2},
"axis":{"labelFontSize":18,"labelFontWeight":"bold","labelColor":"#000000","titleFontSize":18.5,"titleFontWeight":"bold","titleColor":"#000000","grid":true,"gridColor":"#c8c8c8","gridDash":[4,4],"gridWidth":1.5,"domain":false,"ticks":false,"labelFlush":false,"labelPadding":8},
"axisX":{"labelPadding":9,"titlePadding":2},
"axisY":{"titlePadding":5}
}
}
